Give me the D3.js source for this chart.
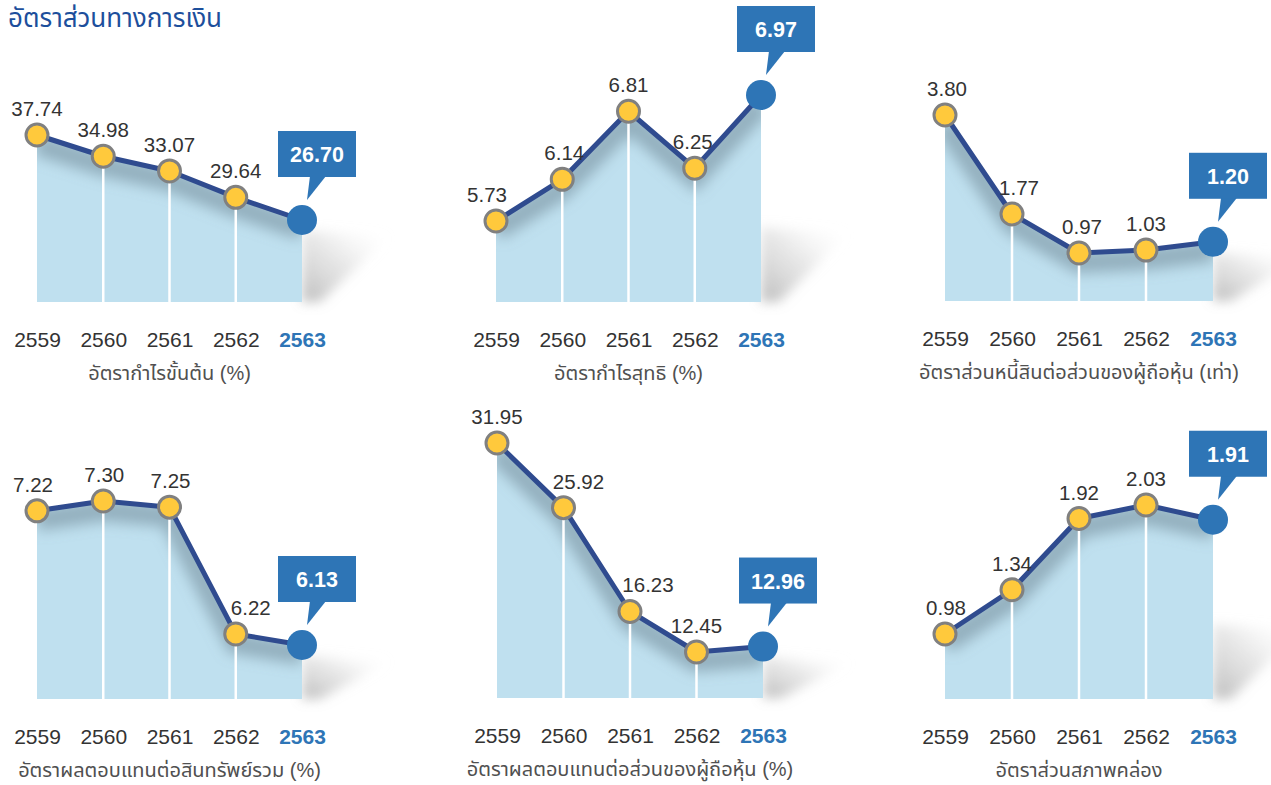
<!DOCTYPE html>
<html>
<head>
<meta charset="utf-8">
<script src="https://cdn.jsdelivr.net/npm/d3@7"></script>
<style>
    body { margin: 0; background: #fff; }
    svg { display: block; font-family: "Liberation Sans", Arial, "Noto Sans Thai", "Noto Sans", sans-serif; }
</style>
</head>
<body>
<svg width="1271" height="785"></svg>
<script>
// data
const years = ["2559", "2560", "2561", "2562", "2563"];
const grossMargin = [37.74, 34.98, 33.07, 29.64, 26.70];
const netMargin = [5.73, 6.14, 6.81, 6.25, 6.97];
const debtToEquity = [3.80, 1.77, 0.97, 1.03, 1.20];
const returnOnAssets = [7.22, 7.30, 7.25, 6.22, 6.13];
const returnOnEquity = [31.95, 25.92, 16.23, 12.45, 12.96];
const currentRatio = [0.98, 1.34, 1.92, 2.03, 1.91];
const chartTitles = [
    "อัตรากำไรขั้นต้น (%)",
    "อัตรากำไรสุทธิ (%)",
    "อัตราส่วนหนี้สินต่อส่วนของผู้ถือหุ้น (เท่า)",
    "อัตราผลตอบแทนต่อสินทรัพย์รวม (%)",
    "อัตราผลตอบแทนต่อส่วนของผู้ถือหุ้น (%)",
    "อัตราส่วนสภาพคล่อง"
];
const mainTitle = "อัตราส่วนทางการเงิน";

// layout of each small chart (pixels), kept apart from the values
const panels = [
    {values: grossMargin,    x: [37, 302],   base: 302, hiY: 135, loY: 220, dx: [0, 0, 0, 0]},
    {values: netMargin,      x: [496, 761],  base: 302, hiY: 95,  loY: 221, dx: [-9, 2, 0, -2]},
    {values: debtToEquity,   x: [945, 1213], base: 301, hiY: 115, loY: 253, dx: [2, 7, 3, 0]},
    {values: returnOnAssets, x: [37, 302],   base: 699, hiY: 501, loY: 645, dx: [-4, 1, 1, 15]},
    {values: returnOnEquity, x: [497, 763],  base: 698, hiY: 443, loY: 652, dx: [0, 15, 18, 0]},
    {values: currentRatio,   x: [945, 1213], base: 699, hiY: 505, loY: 634, dx: [1, 0, 0, 0]}
];

const C = {
    fill: "#bfe0ef",
    line: "#2f4b8f",
    dot: "#ffc93c",
    dotStroke: "#808080",
    blue: "#2e75b6",
    text: "#333333",
    sub: "#505050",
    title: "#1d4f9c"
};

let svg = d3.select("svg");
let defs = svg.append("defs");

defs.append("filter").attr("id", "blur").attr("x", "-50%").attr("y", "-50%")
    .attr("width", "200%").attr("height", "200%")
    .append("feGaussianBlur").attr("stdDeviation", 7);
defs.append("filter").attr("id", "blurS").attr("x", "-50%").attr("y", "-50%")
    .attr("width", "200%").attr("height", "200%")
    .append("feGaussianBlur").attr("stdDeviation", 6);

let castGrad = defs.append("linearGradient").attr("id", "cast")
    .attr("x1", 0).attr("y1", 1).attr("x2", 1).attr("y2", 0);
castGrad.append("stop").attr("offset", "0%").attr("stop-color", "#909090").attr("stop-opacity", 0.6);
castGrad.append("stop").attr("offset", "50%").attr("stop-color", "#bdbdbd").attr("stop-opacity", 0.35);
castGrad.append("stop").attr("offset", "100%").attr("stop-color", "#ffffff").attr("stop-opacity", 0);

svg.append("text")
    .attr("x", 8).attr("y", 27)
    .attr("fill", C.title)
    .attr("font-size", 26)
    .text(mainTitle);

function drawPanel(p, i) {
    let g = svg.append("g");
    let vals = p.values;
    let n = vals.length;

    let x = d3.scalePoint().domain(years).range(p.x);
    let y = d3.scaleLinear()
        .domain([d3.min(vals), d3.max(vals)])
        .range([p.loY, p.hiY]);

    let pts = vals.map((v, k) => [x(years[k]), y(v)]);
    let last = pts[n - 1];

    // cast shadow to the right of the last point
    let sTop = Math.max(last[1] + 10, p.base - 75);
    g.append("path")
        .attr("d", d3.line()([
            [last[0], sTop],
            [last[0] + 88, sTop + 6],
            [last[0] + 18, p.base],
            [last[0], p.base]
        ]))
        .attr("fill", "url(#cast)")
        .attr("filter", "url(#blurS)");

    let area = d3.area()
        .x(d => d[0])
        .y0(p.base)
        .y1(d => d[1]);

    let clipId = "clip" + i;
    defs.append("clipPath").attr("id", clipId)
        .append("path").attr("d", area(pts));

    g.append("path")
        .attr("d", area(pts))
        .attr("fill", C.fill);

    // soft darker band under the line
    g.append("g").attr("clip-path", `url(#${clipId})`)
        .append("path")
        .attr("d", d3.line()(pts))
        .attr("transform", "translate(0,9)")
        .attr("fill", "none")
        .attr("stroke", "#6f8796")
        .attr("stroke-opacity", 0.55)
        .attr("stroke-width", 22)
        .attr("filter", "url(#blur)");

    // white separators
    g.selectAll(".sep")
        .data(pts.slice(1, n - 1))
        .enter().append("line")
        .attr("x1", d => d[0]).attr("x2", d => d[0])
        .attr("y1", d => d[1]).attr("y2", p.base)
        .attr("stroke", "#ffffff")
        .attr("stroke-width", 2.5);

    g.append("path")
        .attr("d", d3.line()(pts))
        .attr("fill", "none")
        .attr("stroke", C.line)
        .attr("stroke-width", 5)
        .attr("stroke-linejoin", "round");

    g.selectAll(".dot")
        .data(pts.slice(0, n - 1))
        .enter().append("circle")
        .attr("cx", d => d[0]).attr("cy", d => d[1])
        .attr("r", 11)
        .attr("fill", C.dot)
        .attr("stroke", C.dotStroke)
        .attr("stroke-width", 3);

    g.append("circle")
        .attr("cx", last[0]).attr("cy", last[1])
        .attr("r", 15)
        .attr("fill", C.blue);

    // value labels
    g.selectAll(".val")
        .data(vals.slice(0, n - 1))
        .enter().append("text")
        .attr("x", (d, k) => pts[k][0] + p.dx[k])
        .attr("y", (d, k) => pts[k][1] - 19)
        .attr("text-anchor", "middle")
        .attr("font-size", 20.5)
        .attr("fill", C.text)
        .text(d => d.toFixed(2));

    // callout box
    let bx = last[0] - 24, by = last[1] - 89;
    g.append("path")
        .attr("d", d3.line()([[bx + 32, by + 45], [bx + 48, by + 45], [last[0] + 5, last[1] - 20]]) + "Z")
        .attr("fill", C.blue);
    g.append("rect")
        .attr("x", bx).attr("y", by)
        .attr("width", 78).attr("height", 46)
        .attr("fill", C.blue);
    g.append("text")
        .attr("x", bx + 39).attr("y", by + 31)
        .attr("text-anchor", "middle")
        .attr("font-size", 21.5)
        .attr("font-weight", "bold")
        .attr("fill", "#ffffff")
        .text(vals[n - 1].toFixed(2));

    // year axis
    let axis = g.append("g")
        .attr("transform", `translate(0,${p.base + 45})`)
        .call(d3.axisBottom(x).tickSize(0).tickPadding(0));
    axis.select(".domain").remove();
    axis.selectAll("text")
        .attr("font-size", 21)
        .attr("font-family", null)
        .attr("dy", 0)
        .attr("fill", C.text)
        .filter(d => d === years[n - 1])
        .attr("fill", C.blue)
        .attr("font-weight", "bold");

    g.append("text")
        .attr("x", x(years[2]))
        .attr("y", p.base + 78)
        .attr("text-anchor", "middle")
        .attr("font-size", 20)
        .attr("fill", C.sub)
        .text(chartTitles[i]);
}

panels.forEach(drawPanel);
</script>
</body>
</html>
